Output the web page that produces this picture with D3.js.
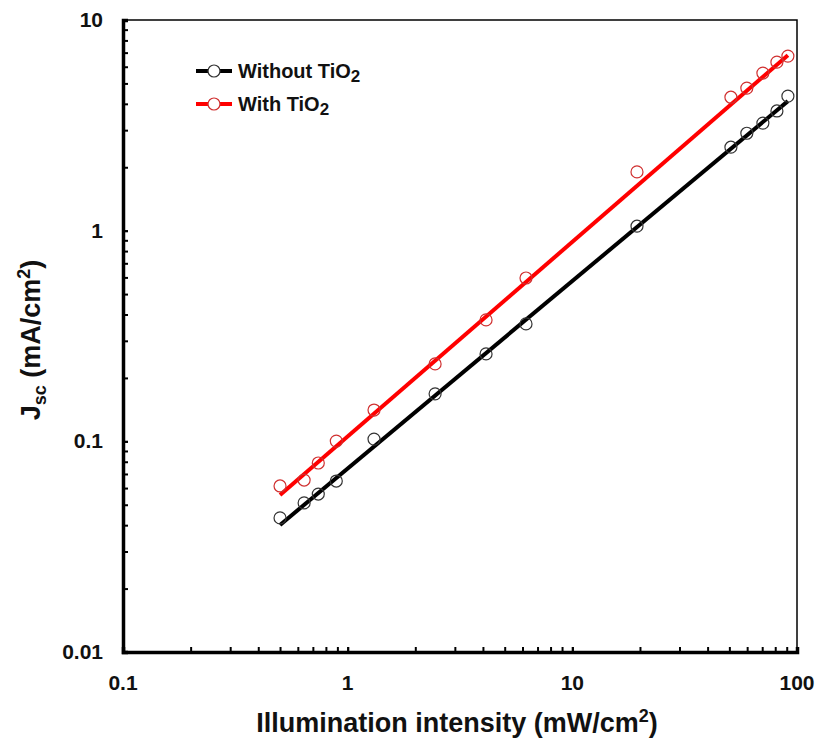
<!DOCTYPE html>
<html><head><meta charset="utf-8">
<script src="https://cdn.jsdelivr.net/npm/d3@7"></script>
<style>body{margin:0;background:#fff}svg{display:block}text{font-family:Arial,"Liberation Sans",sans-serif;font-weight:bold;fill:#111}</style>
</head><body><svg id="c" width="822" height="742"></svg>
<script>
const intensity = [0.5, 0.64, 0.74, 0.89, 1.31, 2.45, 4.13, 6.22, 19.4, 50.8, 59.8, 70.5, 81.4, 91.1];
const jscWithout = [0.0433, 0.0510, 0.0562, 0.0648, 0.1025, 0.168, 0.260, 0.361, 1.05, 2.49, 2.90, 3.24, 3.70, 4.35];
const jscWith = [0.0614, 0.0655, 0.0789, 0.1003, 0.1408, 0.233, 0.377, 0.596, 1.90, 4.30, 4.75, 5.60, 6.31, 6.74];
const fitX = [0.5, 91.1];
const fitWithout = [0.0401, 4.12];
const fitWith = [0.0556, 6.81];
const xTicks = [0.1, 1, 10, 100];
const yTicks = [0.01, 0.1, 1, 10];
const seriesNames = ["Without TiO", "With TiO"];
const seriesColors = ["#000000", "#ff0000"];
const markerColors = ["#333333", "#d03030"];

const svg = d3.select("#c");
const L = 123, R = 797, T = 20, B = 652;
const x = d3.scaleLog().domain([0.1, 100]).range([L, R]);
const y = d3.scaleLog().domain([0.01, 10]).range([B, T]);

// frame
svg.append("rect").attr("x", L).attr("y", T).attr("width", R - L).attr("height", B - T)
  .attr("fill", "none").attr("stroke", "#000").attr("stroke-width", 1.5);

// minor ticks
const xMinor = [], yMinor = [];
for (let d = 0.1; d < 100; d *= 10) for (let k = 1; k <= 10; k++) xMinor.push(+(d * k).toPrecision(3));
for (let d = 0.01; d < 10; d *= 10) for (let k = 1; k <= 10; k++) yMinor.push(+(d * k).toPrecision(3));

const xAxis = d3.axisBottom(x).tickValues(xMinor).tickSize(-5).tickFormat("");
const gx = svg.append("g").attr("transform", `translate(0,${B})`).call(xAxis);
gx.select(".domain").attr("stroke-width", 3.5);
gx.selectAll(".tick line").attr("stroke-width", 2);
const yAxis = d3.axisLeft(y).tickValues(yMinor).tickSize(-5).tickFormat("");
const gy = svg.append("g").attr("transform", `translate(${L},0)`).call(yAxis);
gy.select(".domain").attr("stroke-width", 3.5);
gy.selectAll(".tick line").attr("stroke-width", 2);

// tick labels
svg.append("g").selectAll("text").data(xTicks).join("text")
  .attr("x", d => x(d)).attr("y", 690).attr("text-anchor", "middle")
  .attr("font-size", 21).text(d => d3.format("~g")(d));
svg.append("g").selectAll("text").data(yTicks).join("text")
  .attr("x", 103).attr("y", d => y(d) + 7).attr("text-anchor", "end")
  .attr("font-size", 21).text(d => d3.format("~g")(d));

// axis titles
const xt = svg.append("text").attr("x", 457).attr("y", 732).attr("text-anchor", "middle").attr("font-size", 27);
xt.append("tspan").text("Illumination intensity (mW/cm");
xt.append("tspan").attr("font-size", 18).attr("dy", -10).text("2");
xt.append("tspan").attr("dy", 10).text(")");

const yt = svg.append("text").attr("transform", "translate(40,340) rotate(-90)").attr("text-anchor", "middle").attr("font-size", 27);
yt.append("tspan").text("J");
yt.append("tspan").attr("font-size", 18).attr("dy", 6).text("sc");
yt.append("tspan").attr("dy", -6).text(" (mA/cm");
yt.append("tspan").attr("font-size", 18).attr("dy", -10).text("2");
yt.append("tspan").attr("dy", 10).text(")");

// fit lines
const line = d3.line().x(d => x(d[0])).y(d => y(d[1]));
[[fitWithout, 0], [fitWith, 1]].forEach(([f, i]) => {
  svg.append("path").datum(fitX.map((v, j) => [v, f[j]]))
    .attr("d", line).attr("fill", "none").attr("stroke", seriesColors[i]).attr("stroke-width", 4);
});

// markers
[[jscWithout, 0], [jscWith, 1]].forEach(([s, i]) => {
  svg.append("g").selectAll("circle").data(intensity.map((v, j) => [v, s[j]])).join("circle")
    .attr("cx", d => x(d[0])).attr("cy", d => y(d[1])).attr("r", 6)
    .attr("fill", "none").attr("stroke", markerColors[i]).attr("stroke-width", 1.2);
});

// legend
seriesNames.forEach((n, i) => {
  const ly = 71 + i * 33;
  svg.append("line").attr("x1", 196).attr("x2", 232).attr("y1", ly).attr("y2", ly)
    .attr("stroke", seriesColors[i]).attr("stroke-width", 4);
  svg.append("circle").attr("cx", 214).attr("cy", ly).attr("r", 6)
    .attr("fill", "#fff").attr("stroke", markerColors[i]).attr("stroke-width", 1.2);
  const t = svg.append("text").attr("x", 238).attr("y", ly + 7).attr("font-size", 20);
  t.append("tspan").text(n);
  t.append("tspan").attr("font-size", 17).attr("dy", 4).text("2");
});
</script></body></html>
